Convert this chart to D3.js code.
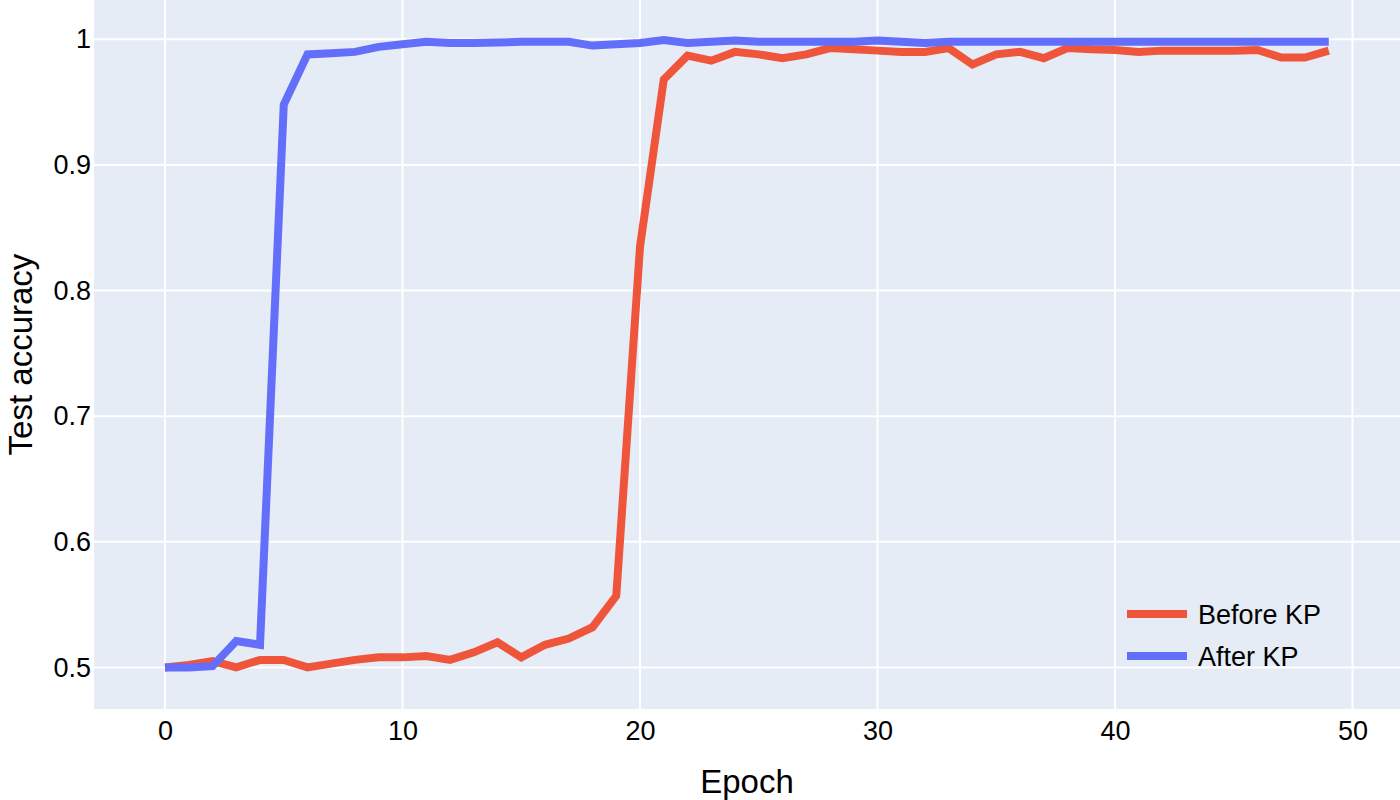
<!DOCTYPE html>
<html>
<head>
<meta charset="utf-8">
<script src="https://cdn.jsdelivr.net/npm/d3@7"></script>
<style>
    body { margin: 0; background: #fff; }
    svg { display: block; font-family: "Liberation Sans", Arial, sans-serif; }
</style>
</head>
<body>
<svg id="line-chart" width="1400" height="800"></svg>
<script>
// Test accuracy per epoch
const epochs = d3.range(0, 50);
const beforeKP = [
    0.500, 0.502, 0.505, 0.500, 0.506, 0.506, 0.500, 0.503, 0.506, 0.508,
    0.508, 0.509, 0.506, 0.512, 0.520, 0.508, 0.518, 0.523, 0.532, 0.557,
    0.835, 0.968, 0.987, 0.983, 0.990, 0.988, 0.985, 0.988, 0.993, 0.992,
    0.991, 0.990, 0.990, 0.993, 0.980, 0.988, 0.990, 0.985, 0.993, 0.992,
    0.9915, 0.990, 0.991, 0.991, 0.991, 0.991, 0.9915, 0.9855, 0.9855, 0.991
];
const afterKP = [
    0.500, 0.500, 0.501, 0.521, 0.518, 0.948, 0.988, 0.989, 0.990, 0.994,
    0.996, 0.998, 0.997, 0.997, 0.9975, 0.998, 0.998, 0.998, 0.995, 0.996,
    0.997, 0.9995, 0.997, 0.998, 0.999, 0.998, 0.998, 0.998, 0.998, 0.998,
    0.999, 0.998, 0.997, 0.998, 0.998, 0.998, 0.998, 0.998, 0.998, 0.998,
    0.998, 0.998, 0.998, 0.998, 0.998, 0.998, 0.998, 0.998, 0.998, 0.998
];
const seriesNames = ["Before KP", "After KP"];
const seriesColors = ["#EF553B", "#636EFA"];
const xTicks = [0, 10, 20, 30, 40, 50];
const yTicks = [0.5, 0.6, 0.7, 0.8, 0.9, 1];

const svg = d3.select("#line-chart"),
    margin = {top: 0, right: 0, bottom: 91, left: 94},
    width = +svg.attr("width") - margin.left - margin.right,
    height = +svg.attr("height") - margin.top - margin.bottom;

const x = d3.scaleLinear().domain([-2.99, 52.0]).range([0, width]),
    y = d3.scaleLinear().domain([0.4669, 1.0313]).range([height, 0]);

const g = svg.append("g")
    .attr("transform", "translate(" + margin.left + "," + margin.top + ")");

g.append("rect")
    .attr("width", width)
    .attr("height", height)
    .attr("fill", "#E5ECF6");

// grid
g.selectAll(".vgrid")
  .data(xTicks)
  .enter().append("line")
    .attr("x1", d => x(d)).attr("x2", d => x(d))
    .attr("y1", 0).attr("y2", height)
    .attr("stroke", "#fff").attr("stroke-width", 2);

g.selectAll(".hgrid")
  .data(yTicks)
  .enter().append("line")
    .attr("x1", 0).attr("x2", width)
    .attr("y1", d => y(d)).attr("y2", d => y(d))
    .attr("stroke", "#fff").attr("stroke-width", 2);

// axes (labels only, plotly style)
const xAxis = g.append("g")
    .attr("transform", "translate(0," + height + ")")
    .call(d3.axisBottom(x).tickValues(xTicks).tickSize(0).tickPadding(12));

const yAxis = g.append("g")
    .call(d3.axisLeft(y).tickValues(yTicks).tickSize(0).tickPadding(3).tickFormat(d3.format("")));

[xAxis, yAxis].forEach(a => {
    a.select(".domain").remove();
    a.selectAll("text")
        .attr("font-family", "Liberation Sans, Arial, sans-serif")
        .attr("font-size", "27px")
        .attr("fill", "#000");
});

// lines
const line = d3.line()
    .x((d, i) => x(epochs[i]))
    .y(d => y(d));

[beforeKP, afterKP].forEach((s, k) => {
    g.append("path")
        .datum(s)
        .attr("fill", "none")
        .attr("stroke", seriesColors[k])
        .attr("stroke-width", 8)
        .attr("d", line);
});

// axis titles
svg.append("text")
    .attr("x", margin.left + width / 2)
    .attr("y", 793)
    .attr("text-anchor", "middle")
    .attr("font-size", "33px")
    .attr("fill", "#000")
    .text("Epoch");

svg.append("text")
    .attr("transform", "translate(32," + (margin.top + height / 2) + ") rotate(-90)")
    .attr("text-anchor", "middle")
    .attr("font-size", "33px")
    .attr("fill", "#000")
    .text("Test accuracy");

// legend
const legend = svg.selectAll(".legend")
  .data(seriesNames)
  .enter().append("g")
    .attr("transform", (d, i) => "translate(1127," + (614 + i * 42) + ")");

legend.append("line")
    .attr("x1", 0).attr("x2", 60)
    .attr("stroke", (d, i) => seriesColors[i])
    .attr("stroke-width", 8);

legend.append("text")
    .attr("x", 71)
    .attr("y", 10)
    .attr("font-size", "27px")
    .attr("fill", "#000")
    .text(d => d);
</script>
</body>
</html>
